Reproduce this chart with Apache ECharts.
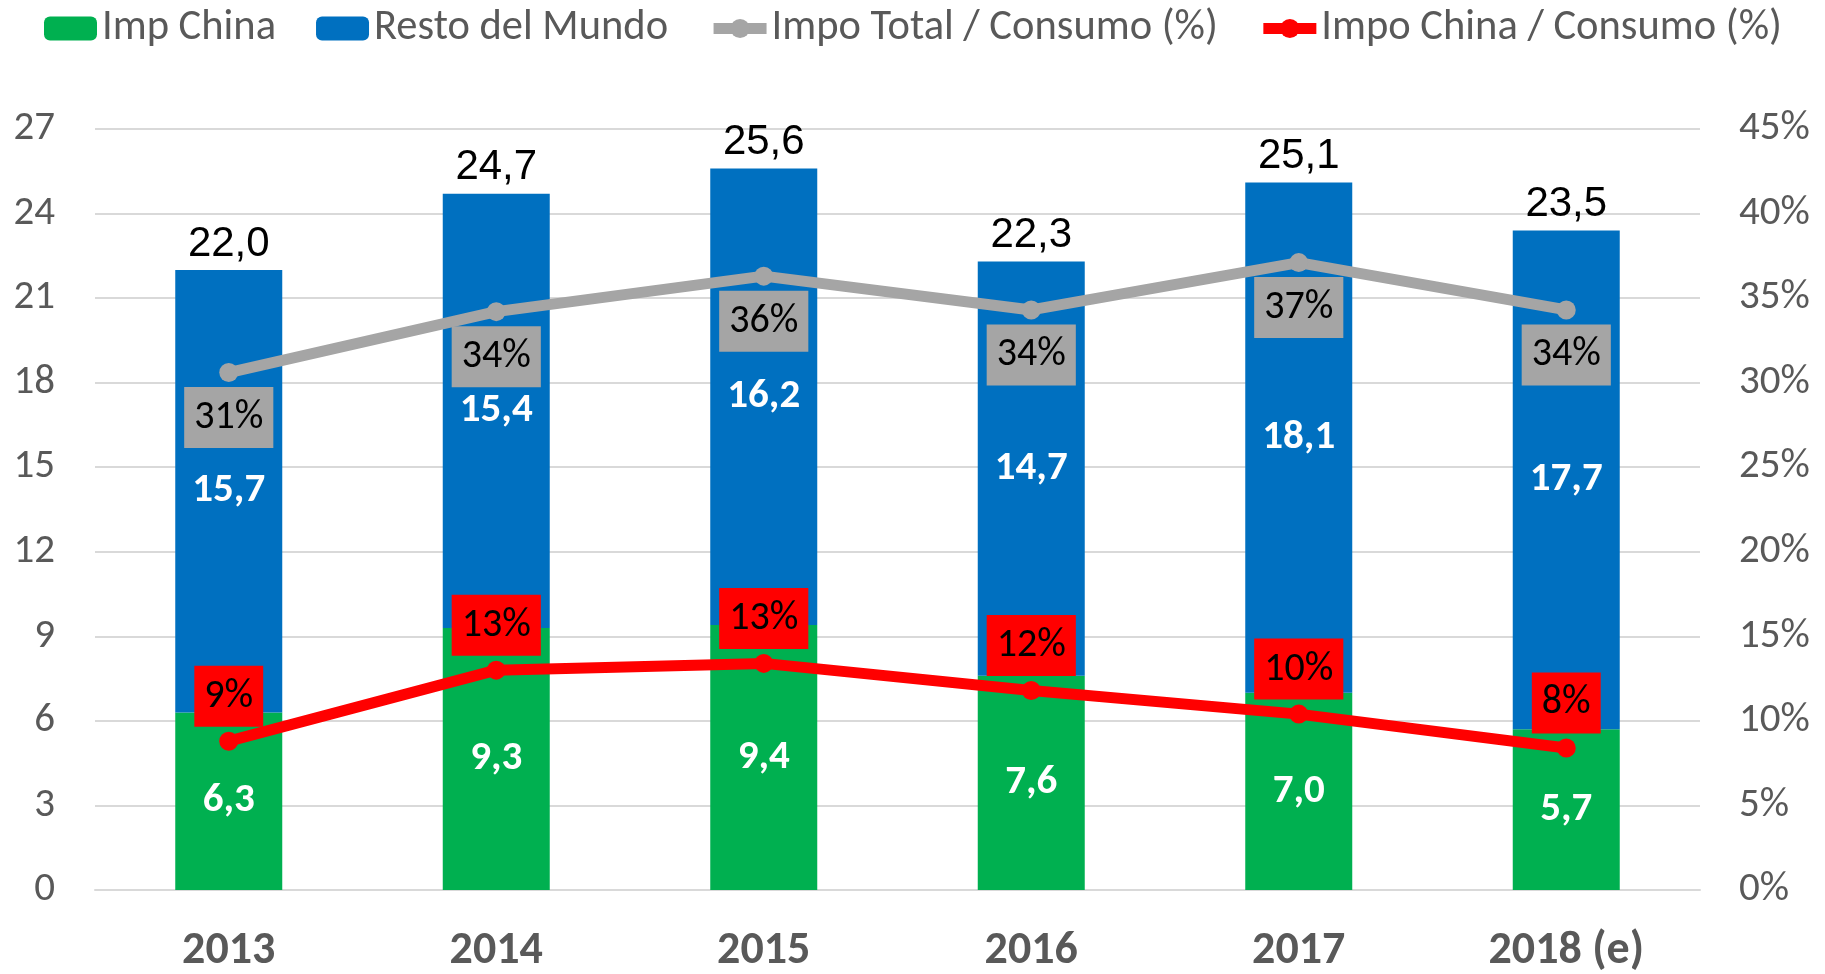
<!DOCTYPE html>
<html>
<head>
<meta charset="utf-8">
<title>Importaciones</title>
<script src="https://cdn.jsdelivr.net/npm/echarts@6/dist/echarts.min.js"></script>
<style>
  html, body { margin: 0; padding: 0; background: #fff; }
  #chart { width: 1825px; height: 974px; }
</style>
</head>
<body>
<div id="chart"></div>
<script>
// datos
const years = ["2013", "2014", "2015", "2016", "2017", "2018 (e)"];
const impChina = [6.3, 9.3, 9.4, 7.6, 7.0, 5.7];
const restoMundo = [15.7, 15.4, 16.2, 14.7, 18.1, 17.7];
const totales = [22.0, 24.7, 25.6, 22.3, 25.1, 23.5];
const impoTotalPct = [30.6, 34.2, 36.3, 34.3, 37.1, 34.3];
const impoChinaPct = [8.8, 13.0, 13.4, 11.8, 10.4, 8.4];

const FONT = "Carlito, 'Liberation Sans Narrow', 'Open Sans', sans-serif";
const GREY_TEXT = "#595959";

const fmtNum = (v) => v.toFixed(1).replace(".", ",");
const fmtPct = (v) => Math.round(v) + "%";

const chart = echarts.init(document.getElementById("chart"));

const option = {
  animation: false,
  textStyle: { fontFamily: FONT },
  grid: { left: 95, right: 125, top: 129, bottom: 84, outerBoundsMode: "none" },
  legend: {
    data: ["Imp China", "Resto del Mundo", "Impo Total / Consumo (%)", "Impo China / Consumo (%)"],
    left: 39,
    top: 2,
    itemWidth: 53,
    itemHeight: 24,
    itemGap: 40,
    lineStyle: { width: 11 },
    textStyle: { color: GREY_TEXT, fontSize: 42.5, fontFamily: FONT },
  },
  xAxis: {
    type: "category",
    data: years,
    axisLine: { lineStyle: { color: "#d9d9d9", width: 2 } },
    axisTick: { show: false },
    axisLabel: { color: GREY_TEXT, fontSize: 46, fontWeight: "bold", margin: 38 },
  },
  yAxis: [
    {
      type: "value",
      min: 0,
      max: 27,
      interval: 3,
      axisLabel: { color: GREY_TEXT, fontSize: 41, margin: 40 },
      splitLine: { lineStyle: { color: "#d9d9d9", width: 2 } },
    },
    {
      type: "value",
      min: 0,
      max: 45,
      interval: 5,
      axisLabel: { color: GREY_TEXT, fontSize: 41, margin: 39, formatter: "{value}%" },
      splitLine: { show: false },
    },
  ],
  series: [
    {
      name: "Imp China",
      type: "bar",
      stack: "imp",
      barWidth: "40%",
      itemStyle: { color: "#00B050" },
      label: {
        show: true,
        position: "inside",
        color: "#fff",
        fontSize: 41,
        fontWeight: "bold",
        formatter: (p) => fmtNum(p.value),
      },
      data: impChina,
    },
    {
      name: "Resto del Mundo",
      type: "bar",
      stack: "imp",
      barWidth: "40%",
      itemStyle: { color: "#0070C0" },
      label: {
        show: true,
        position: "inside",
        color: "#fff",
        fontSize: 41,
        fontWeight: "bold",
        formatter: (p) => fmtNum(p.value),
      },
      data: restoMundo,
    },
    {
      // etiqueta del total sobre la barra
      name: "Total",
      type: "bar",
      stack: "imp",
      barWidth: "40%",
      itemStyle: { color: "transparent" },
      label: {
        show: true,
        position: "top",
        distance: 5,
        color: "#000",
        fontSize: 42,
        fontFamily: "'Liberation Sans', Arial, sans-serif",
        formatter: (p) => fmtNum(totales[p.dataIndex]),
      },
      data: years.map(() => 0),
    },
    {
      name: "Impo Total / Consumo (%)",
      type: "line",
      yAxisIndex: 1,
      z: 5,
      symbol: "circle",
      symbolSize: 19,
      itemStyle: { color: "#A5A5A5" },
      lineStyle: { color: "#A5A5A5", width: 11 },
      label: {
        show: true,
        position: "bottom",
        distance: 5,
        color: "#000",
        fontSize: 40,
        backgroundColor: "#A5A5A5",
        padding: [11, 10, 10, 10],
        formatter: (p) => fmtPct(p.value),
      },
      data: impoTotalPct,
    },
    {
      name: "Impo China / Consumo (%)",
      type: "line",
      yAxisIndex: 1,
      z: 5,
      symbol: "circle",
      symbolSize: 19,
      itemStyle: { color: "#FF0000" },
      lineStyle: { color: "#FF0000", width: 11 },
      label: {
        show: true,
        position: "top",
        distance: 5,
        color: "#000",
        fontSize: 40,
        backgroundColor: "#FF0000",
        padding: [11, 10, 10, 10],
        formatter: (p) => fmtPct(p.value),
      },
      data: impoChinaPct,
    },
  ],
};

chart.setOption(option);
window.addEventListener("resize", () => {
  chart.resize();
});
</script>
</body>
</html>
